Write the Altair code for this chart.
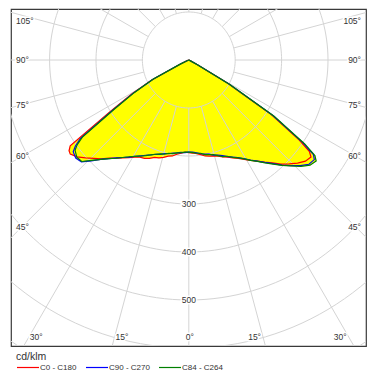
import math
import altair as alt
import pandas as pd

# ---------------- data ----------------
gamma = [-90, -80, -75, -70, -67.5, -65, -62.5, -60, -57.5, -55, -53.75, -52.5, -50, -47.5, -45,
         -42.5, -40, -37.5, -35, -32.5, -30, -27.5, -25, -22.5, -20, -17.5, -15, -12.5,
         -10, -7.5, -5, -2.5, 0, 2.5, 5, 7.5, 10, 12.5, 15, 17.5, 20, 22.5, 25, 27.5,
         30, 32.5, 35, 37.5, 40, 42.5, 45, 47.5, 50, 52.5, 53.75, 55, 57.5, 60, 62.5, 65,
         67.5, 70, 75, 80, 90]

c0_c180 = [0, 0, 0, 0, 5, 22, 90, 142, 205, 312, 320, 322, 314, 302, 290,
           279, 267, 258, 249, 241, 234, 228, 226, 222, 216, 214, 210, 205,
           203, 198, 195, 192, 193, 194, 196, 199, 203, 205, 207, 210, 215, 219, 225, 231,
           239, 248, 257, 268, 280, 294, 306, 318, 328, 332, 322, 290, 208, 96, 18, 3,
           0, 0, 0, 0, 0]

c90_c270 = [0, 0, 0, 0, 4, 20, 88, 138, 193, 285, 303, 314, 318, 314, 297,
            281, 268, 257, 248, 240, 232, 225, 219, 214, 209, 206, 202, 200,
            197, 195, 193, 193, 192, 192, 194, 197, 199, 201, 205, 208, 212, 218, 223, 229,
            237, 247, 257, 269, 282, 297, 311, 326, 338, 341, 333, 300, 215, 100, 20, 3,
            0, 0, 0, 0, 0]

c84_c264 = [0, 0, 0, 0, 4, 19, 86, 136, 190, 280, 298, 309, 315, 313, 296,
            281, 268, 258, 248, 239, 232, 226, 220, 214, 209, 205, 203, 199,
            198, 195, 194, 192, 192, 193, 195, 196, 200, 202, 204, 209, 214, 217, 224, 230,
            238, 248, 258, 270, 283, 298, 312, 328, 341, 346, 337, 305, 218, 102, 21, 3,
            0, 0, 0, 0, 0]

series_names = ["C0 - C180", "C90 - C270", "C84 - C264"]
series_values = [c0_c180, c90_c270, c84_c264]
series_colors = ["#ff0000", "#0000ff", "#008000"]

rings = [100, 200, 300, 400, 500, 600, 700]
ring_labels = [300, 400, 500]
ray_angles = list(range(0, 360, 15))
side_label_angles = [105, 90, 75, 60, 45]
bottom_label_angles = [-30, -15, 0, 15, 30]

# ---------------- layout / scales ----------------
W, H = 355, 337
PX_X = 0.464   # px per cd/klm horizontally
PX_Y = 0.480   # px per cd/klm vertically
CX, CY = 177.8, 51.0   # centre of the diagram inside plot area (px)
x_dom = [-CX / PX_X, (W - CX) / PX_X]
y_dom = [-(H - CY) / PX_Y, CY / PX_Y]
xs = alt.Scale(domain=x_dom, nice=False, zero=False)
ys = alt.Scale(domain=y_dom, nice=False, zero=False)
FONT = "Liberation Sans"
GRID = "#d4d4d4"
TXT = "#333333"

# curves
rows = []
for name, vals in zip(series_names, series_values):
    for i, (g, r) in enumerate(zip(gamma, vals)):
        a = math.radians(g)
        rows.append({"series": name, "order": i,
                     "x": r * math.sin(a), "y": -r * math.cos(a)})
curves = pd.DataFrame(rows)

# grid rings
ring_rows = []
for r in rings:
    for k, t in enumerate(range(0, 362, 2)):
        a = math.radians(t)
        ring_rows.append({"ring": r, "order": k, "x": r * math.sin(a), "y": -r * math.cos(a)})
ring_df = pd.DataFrame(ring_rows)

# radial rays (square-pixel angles, starting at the first ring)
ray_rows = []
for ang in ray_angles:
    a = math.radians(ang)
    dx, dy = math.sin(a) / PX_X, -math.cos(a) / PX_Y
    n = math.hypot(dx, dy)
    ray_rows.append({"x": dx / n * rings[0], "y": dy / n * rings[0],
                     "x2": dx / n * 3000, "y2": dy / n * 3000})
ray_df = pd.DataFrame(ray_rows)

ring_lab_df = pd.DataFrame({"x": [0] * len(ring_labels),
                            "y": [-v for v in ring_labels],
                            "t": [str(v) for v in ring_labels]})

# side angle labels (placed on their rays near the frame)
LAB_OFF = CX - 11.0
left_rows, right_rows = [], []
for ang in side_label_angles:
    ypx = max(CY + LAB_OFF / math.tan(math.radians(ang)), 11.5)
    yd = -(ypx - CY) / PX_Y
    left_rows.append({"x": (5 - CX) / PX_X, "y": yd, "t": f"{ang}°"})
    right_rows.append({"x": (350 - CX) / PX_X, "y": yd, "t": f"{ang}°"})

# bottom angle labels
BY = 328.0
bl, bc, br = [], [], []
for ang in bottom_label_angles:
    xpx = CX + (BY - CY) * math.tan(math.radians(ang))
    d = {"y": -(BY - CY) / PX_Y, "t": f"{abs(ang)}°"}
    if ang < 0:
        d["x"] = (xpx + 1 - CX) / PX_X
        bl.append(d)
    elif ang > 0:
        d["x"] = (xpx - 2 - CX) / PX_X
        br.append(d)
    else:
        d["x"] = (xpx + 1 - CX) / PX_X
        bc.append(d)
left_df = pd.DataFrame(left_rows + bl)
right_df = pd.DataFrame(right_rows + br)
center_df = pd.DataFrame(bc)

X = lambda f="x": alt.X(f"{f}:Q", scale=xs, axis=None)
Y = lambda f="y": alt.Y(f"{f}:Q", scale=ys, axis=None)

fill = alt.Chart(curves).mark_line(
    interpolate="linear-closed", fill="#ffff00", stroke="#ffff00", strokeWidth=0.5, clip=True
).encode(x=X(), y=Y(), detail="series:N", order="order:Q")

ring_layer = alt.Chart(ring_df).mark_line(color=GRID, strokeWidth=1, clip=True).encode(
    x=X(), y=Y(), detail="ring:N", order="order:Q")

ray_layer = alt.Chart(ray_df).mark_rule(color=GRID, strokeWidth=1, clip=True).encode(
    x=X(), y=Y(), x2="x2:Q", y2="y2:Q")

legend = alt.Legend(
    title="cd/klm", orient="none", legendX=5, legendY=343,
    direction="horizontal", symbolType="M-2.75,0H2.75",
    symbolSize=64, symbolStrokeWidth=1.2, symbolOffset=7,
    labelFont=FONT, labelFontSize=8, labelColor=TXT,
    titleFont=FONT, titleFontSize=10.5, titleFontWeight="normal",
    titleColor=TXT, titlePadding=0, columnPadding=6, labelOffset=7)

line_layers = []
for name, col in zip(series_names, series_colors):
    sub = curves[curves["series"] == name]
    line_layers.append(
        alt.Chart(sub).mark_line(strokeWidth=1.2, clip=True).encode(
            x=X(), y=Y(), order="order:Q",
            color=alt.Color("series:N",
                            scale=alt.Scale(domain=series_names, range=series_colors),
                            legend=legend))
    )


def text_pair(df, align):
    halo = alt.Chart(df).mark_text(font=FONT, fontSize=8.5, align=align, baseline="middle",
                                   stroke="white", strokeWidth=3, color="white").encode(
        x=X(), y=Y(), text="t:N")
    txt = alt.Chart(df).mark_text(font=FONT, fontSize=8.5, align=align, baseline="middle",
                                  color=TXT).encode(x=X(), y=Y(), text="t:N")
    return [halo, txt]


texts = (text_pair(ring_lab_df, "center") + text_pair(left_df, "left")
         + text_pair(right_df, "right") + text_pair(center_df, "center"))

chart = alt.layer(fill, ring_layer, ray_layer, *line_layers, *texts).properties(
    width=W, height=H,
    padding={"left": 3, "top": 1, "right": 3, "bottom": 28},
    autosize=alt.AutoSizeParams(type="none"),
    background="white",
).configure_view(stroke="#3a3a3a", strokeWidth=1.2)

chart.save("out.html", embed_options={"renderer": "svg", "actions": False})
